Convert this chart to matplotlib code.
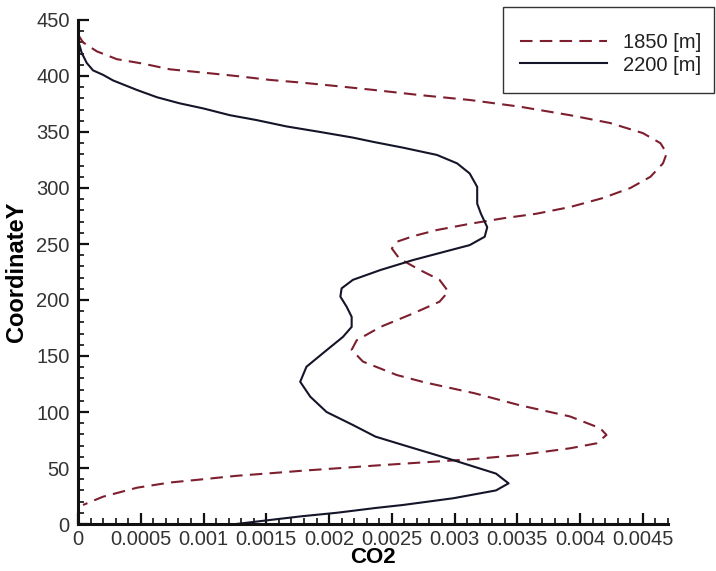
import matplotlib
matplotlib.use("Agg")
import matplotlib.pyplot as plt
from matplotlib.patches import Rectangle
from matplotlib.ticker import MultipleLocator

plt.rcParams['font.family'] = ['Liberation Sans', 'DejaVu Sans']

# 1850 [m] series (CO2, CoordinateY), read from top to bottom
x1850 = [0.00000, 0.00004, 0.00015, 0.00031, 0.00052, 0.00073, 0.00100, 0.00126,
         0.00153, 0.00179, 0.00206, 0.00236, 0.00272, 0.00312, 0.00352, 0.00392,
         0.00424, 0.00450, 0.00464, 0.00469, 0.00466, 0.00456, 0.00440, 0.00418,
         0.00392, 0.00365, 0.00339, 0.00312, 0.00286, 0.00267, 0.00254, 0.00250,
         0.00256, 0.00272, 0.00288, 0.00295, 0.00288, 0.00267, 0.00241, 0.00222,
         0.00218, 0.00227, 0.00254, 0.00276, 0.00316, 0.00352, 0.00392, 0.00416,
         0.00421, 0.00413, 0.00392, 0.00352, 0.00312, 0.00272, 0.00237, 0.00206,
         0.00179, 0.00153, 0.00126, 0.00100, 0.00073, 0.00047, 0.00020, 0.00004]
y1850 = [437, 430, 422, 415, 411, 406, 403, 400,
         396.5, 394, 391, 387.5, 383, 378.6, 372.6, 365,
         358, 349, 340, 331, 322, 310, 300, 291,
         283, 277, 273, 268, 262.5, 257, 252, 246,
         237, 227, 218, 207.5, 198.5, 188, 176, 164,
         155.5, 145, 133, 126.5, 116.7, 106, 96, 85.5,
         79.5, 72, 67.6, 61.6, 57.7, 54.8, 52.2, 49.7,
         47.6, 45.3, 43, 40, 37, 32.4, 24.4, 17]

# 2200 [m] series, read from bottom to top
x2200 = [0.00126, 0.00153, 0.00179, 0.00206, 0.00237, 0.00259, 0.00299, 0.00333,
         0.00343, 0.00333, 0.00299, 0.00259, 0.00237, 0.00219, 0.00198, 0.00185,
         0.00177, 0.00182, 0.00195, 0.00211, 0.00218, 0.00218, 0.00214, 0.00209,
         0.00210, 0.00219, 0.00241, 0.00267, 0.00295, 0.00312, 0.00324, 0.00326,
         0.00321, 0.00318, 0.00318, 0.00312, 0.00302, 0.00286, 0.00259, 0.00236,
         0.00219, 0.00193, 0.00166, 0.00142, 0.00121, 0.00100, 0.00081, 0.00063,
         0.00047, 0.00028, 0.00020, 0.00012, 0.00007, 0.00003, 0.00000, 0.00000]
y2200 = [0, 3.6, 7, 10, 14.3, 17, 23, 30,
         36.3, 45, 57, 70.5, 78, 88.4, 100, 113.7,
         127, 140.4, 152.4, 167, 176, 185, 194, 203,
         210.4, 218, 226.8, 235.7, 244, 249, 256.5, 265,
         277, 286, 301, 313, 322, 329.5, 336, 341,
         345, 350, 355, 360.7, 365, 371, 375.6, 381,
         387.5, 396, 401, 405, 411.6, 420.5, 432, 437]

labels = ['1850 [m]', '2200 [m]']
xticks = [0, 0.0005, 0.001, 0.0015, 0.002, 0.0025, 0.003, 0.0035, 0.004, 0.0045]
xticklabels = ['0', '0.0005', '0.001', '0.0015', '0.002', '0.0025', '0.003', '0.0035', '0.004', '0.0045']

W, H = 716, 571
fig = plt.figure(figsize=(W / 100, H / 100), dpi=100)
ax = fig.add_axes([78 / W, 1 - 524 / H, 590 / W, 504 / H])

l1, = ax.plot(x1850, y1850, color='#7d1f2e', lw=1.5, dashes=(6, 3.5), label=labels[0])
l2, = ax.plot(x2200, y2200, color='#15152a', lw=1.5, label=labels[1])

ax.set_xlim(0, 0.0047)
ax.set_ylim(0, 450)
ax.set_xticks(xticks)
ax.set_xticklabels(xticklabels)
ax.xaxis.set_minor_locator(MultipleLocator(0.0001))
ax.yaxis.set_major_locator(MultipleLocator(50))
ax.yaxis.set_minor_locator(MultipleLocator(10))

for s in ['top', 'right']:
    ax.spines[s].set_visible(False)
for s in ['left', 'bottom']:
    ax.spines[s].set_linewidth(2.2)
    ax.spines[s].set_color('#111111')

ax.tick_params(which='major', direction='in', length=8, width=1.6, color='#111111',
               labelsize=14.5, labelcolor='#333333')
ax.tick_params(which='minor', direction='in', length=4.5, width=1.2, color='#111111')
ax.tick_params(axis='y', which='major', pad=6)
ax.tick_params(axis='x', which='major', pad=4)

ax.set_xlabel('CO2', fontsize=16, fontweight='bold', va='top')
ax.xaxis.set_label_coords(0.5, -0.046)
ax.set_ylabel('CoordinateY', fontsize=17, fontweight='bold', labelpad=6)

# legend frame
fig.patches.append(Rectangle((503 / W, 1 - 93 / H), (714 - 503) / W, (93 - 7) / H,
                             transform=fig.transFigure, fill=False,
                             edgecolor='#333333', lw=1.0))
ax.legend(handles=[l1, l2], loc='center left', bbox_to_anchor=(520 / W, 1 - 54 / H),
          bbox_transform=fig.transFigure, frameon=False, borderpad=0, borderaxespad=0,
          handlelength=4.33, handletextpad=0.8, labelspacing=0.15, fontsize=14.5,
          labelcolor='#222222')

fig.savefig('out.png', dpi=100)
